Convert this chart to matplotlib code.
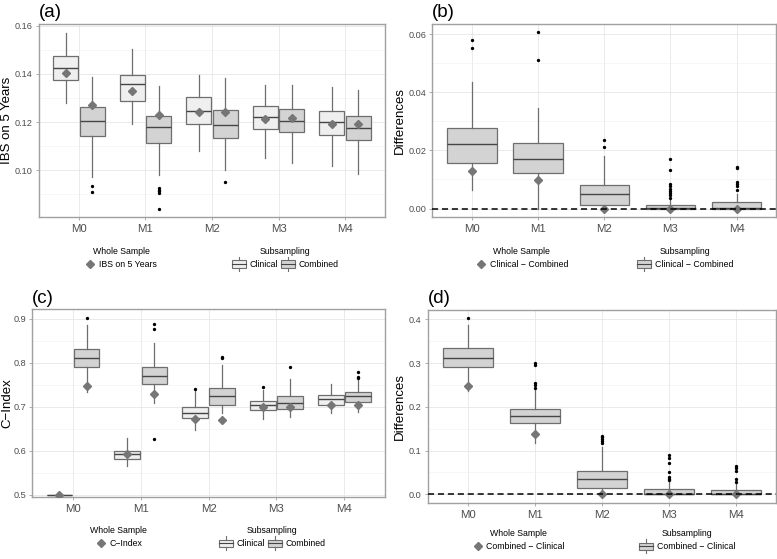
import matplotlib
matplotlib.use("Agg")
import matplotlib.pyplot as plt
from matplotlib.lines import Line2D
from matplotlib.patches import Rectangle
from matplotlib.legend_handler import HandlerBase
from matplotlib.ticker import MultipleLocator
import numpy as np

# ── Data ─────────────────────────────────────────────────────────────────────

MODELS = ["M0", "M1", "M2", "M3", "M4"]

# (a) IBS on 5 years, subsampling boxes
IBS_CLIN_LO = [0.1278, 0.1190, 0.1080, 0.1049, 0.1017]
IBS_CLIN_Q1 = [0.1374, 0.1289, 0.1194, 0.1173, 0.1145]
IBS_CLIN_MED = [0.1425, 0.1357, 0.1247, 0.1222, 0.1199]
IBS_CLIN_Q3 = [0.1474, 0.1396, 0.1303, 0.1267, 0.1247]
IBS_CLIN_HI = [0.1572, 0.1503, 0.1396, 0.1355, 0.1346]
IBS_CLIN_OUT = [[], [], [], [], []]
IBS_COMB_LO = [0.0972, 0.0978, 0.1000, 0.1030, 0.0986]
IBS_COMB_Q1 = [0.1142, 0.1112, 0.1132, 0.1160, 0.1125]
IBS_COMB_MED = [0.1206, 0.1178, 0.1186, 0.1203, 0.1175]
IBS_COMB_Q3 = [0.1261, 0.1226, 0.1250, 0.1256, 0.1226]
IBS_COMB_HI = [0.1386, 0.1350, 0.1385, 0.1353, 0.1332]
IBS_COMB_OUT = [[0.0935, 0.0911], [0.0925, 0.0918, 0.0912, 0.0906, 0.0840],
                [0.0949], [], []]
IBS_WHOLE_CLIN = [0.1403, 0.1329, 0.1243, 0.1213, 0.1190]
IBS_WHOLE_COMB = [0.1271, 0.1230, 0.1243, 0.1217, 0.1190]

# (b) IBS differences, Clinical - Combined
DIBS_LO = [0.0064, 0.0, 0.0, 0.0, 0.0]
DIBS_Q1 = [0.0158, 0.0124, 0.0013, 0.0, 0.0]
DIBS_MED = [0.0223, 0.0170, 0.0051, 0.0001, 0.0003]
DIBS_Q3 = [0.0277, 0.0225, 0.0080, 0.0013, 0.0021]
DIBS_HI = [0.0436, 0.0346, 0.0181, 0.0032, 0.0050]
DIBS_OUT = [[0.0581, 0.0553], [0.0606, 0.0510], [0.0235, 0.0211],
            [0.0172, 0.0133, 0.0084, 0.0076, 0.0068, 0.0060, 0.0053, 0.0045, 0.0038],
            [0.0143, 0.0140, 0.0092, 0.0084, 0.0076, 0.0064]]
DIBS_WHOLE = [0.0130, 0.0098, 0.0, 0.0, 0.0]

# (c) C-Index, subsampling boxes
CI_CLIN_LO = [0.5, 0.566, 0.648, 0.672, 0.685]
CI_CLIN_Q1 = [0.5, 0.582, 0.674, 0.692, 0.703]
CI_CLIN_MED = [0.5, 0.592, 0.685, 0.703, 0.7185]
CI_CLIN_Q3 = [0.5, 0.600, 0.699, 0.714, 0.7275]
CI_CLIN_HI = [0.5, 0.628, 0.735, 0.738, 0.752]
CI_CLIN_OUT = [[], [], [0.7395], [0.7455], []]
CI_COMB_LO = [0.7345, 0.708, 0.685, 0.676, 0.688]
CI_COMB_Q1 = [0.790, 0.752, 0.703, 0.6955, 0.712]
CI_COMB_MED = [0.8105, 0.771, 0.7235, 0.709, 0.7235]
CI_COMB_Q3 = [0.8325, 0.7905, 0.7425, 0.7235, 0.733]
CI_COMB_HI = [0.886, 0.8445, 0.7945, 0.7625, 0.761]
CI_COMB_OUT = [[0.9015], [0.889, 0.876, 0.627], [0.8125, 0.8105], [0.7915],
               [0.780, 0.768, 0.765]]
CI_WHOLE_CLIN = [0.5, 0.593, 0.672, 0.699, 0.705]
CI_WHOLE_COMB = [0.747, 0.729, 0.671, 0.699, 0.705]

# (d) C-Index differences, Combined - Clinical
DCI_LO = [0.235, 0.118, 0.0, 0.0, 0.0]
DCI_Q1 = [0.291, 0.1625, 0.0145, 0.0, 0.0]
DCI_MED = [0.312, 0.179, 0.035, 0.001, 0.0015]
DCI_Q3 = [0.3335, 0.1946, 0.053, 0.0114, 0.0099]
DCI_HI = [0.388, 0.239, 0.109, 0.028, 0.024]
DCI_OUT = [[0.402], [0.301, 0.296, 0.255, 0.250, 0.244],
           [0.134, 0.130, 0.126, 0.122, 0.117],
           [0.089, 0.082, 0.0725, 0.051, 0.040, 0.035, 0.032],
           [0.064, 0.059, 0.053, 0.036, 0.029]]
DCI_WHOLE = [0.247, 0.137, 0.0, 0.0, 0.0]

# ── Style ────────────────────────────────────────────────────────────────────

CLIN_FILL = "#EFEFEF"
COMB_FILL = "#D3D3D3"
EDGE = "#6E6E6E"
MEDIAN = "#454545"
DIAMOND = "#767676"
BORDER = "#A0A0A0"
GRID = "#E6E6E6"
GRID_MINOR = "#F0F0F0"
TICK_TXT = "#4D4D4D"

plt.rcParams["font.family"] = ["Liberation Sans", "DejaVu Sans"]


class BoxKey:
    def __init__(self, face):
        self.face = face


class HandlerBoxKey(HandlerBase):
    def create_artists(self, legend, orig_handle, xdescent, ydescent,
                       width, height, fontsize, trans):
        x0, y0 = -xdescent, -ydescent
        lo, hi = y0 + 0.05 * height, y0 + 0.95 * height
        rect = Rectangle((x0, lo), width, hi - lo, facecolor=orig_handle.face,
                         edgecolor=EDGE, lw=0.8, transform=trans)
        med = Line2D([x0, x0 + width], [y0 + 0.5 * height] * 2,
                     color=MEDIAN, lw=0.8, transform=trans)
        xm = x0 + width / 2
        wt = Line2D([xm, xm], [hi, hi + 0.45 * height], color=EDGE, lw=0.8,
                    transform=trans)
        wb = Line2D([xm, xm], [lo - 0.45 * height, lo], color=EDGE, lw=0.8,
                    transform=trans)
        return [rect, med, wt, wb]


def stats_list(lo, q1, med, q3, hi, out):
    return [dict(whislo=a, q1=b, med=c, q3=d, whishi=e, fliers=f)
            for a, b, c, d, e, f in zip(lo, q1, med, q3, hi, out)]


def draw_boxes(ax, stats, pos, width, fill):
    ax.bxp(stats, positions=pos, widths=width, patch_artist=True,
           showcaps=False, manage_ticks=False,
           boxprops=dict(facecolor=fill, edgecolor=EDGE, linewidth=0.9),
           medianprops=dict(color=MEDIAN, linewidth=1.0),
           whiskerprops=dict(color=EDGE, linewidth=0.9),
           flierprops=dict(marker="o", markersize=1.4, markerfacecolor="black",
                           markeredgecolor="black", linestyle="none"),
           zorder=3)


def style_axes(ax, ylim, major, minor, ylabel, fmt, label_x):
    ax.set_xlim(0.4, 5.6)
    ax.set_ylim(*ylim)
    ax.set_xticks(np.arange(1, 6))
    ax.set_xticklabels(MODELS)
    ax.yaxis.set_major_locator(MultipleLocator(major))
    ax.yaxis.set_minor_locator(MultipleLocator(minor))
    ax.yaxis.set_major_formatter(plt.FuncFormatter(lambda v, p: fmt.format(v)))
    ax.grid(True, which="major", color=GRID, linewidth=0.6, zorder=0)
    ax.grid(True, which="minor", axis="y", color=GRID_MINOR, linewidth=0.4, zorder=0)
    ax.set_axisbelow(True)
    ax.tick_params(axis="y", which="minor", length=0)
    ax.tick_params(axis="both", which="major", length=2.5, width=0.6,
                   color=BORDER, pad=2)
    ax.tick_params(axis="y", labelsize=6.6, labelcolor=TICK_TXT)
    ax.tick_params(axis="x", labelsize=8.2, labelcolor=TICK_TXT)
    for s in ax.spines.values():
        s.set_color(BORDER)
        s.set_linewidth(1.0)
    ax.set_ylabel(ylabel, fontsize=9.5)
    ax.yaxis.set_label_coords(label_x, 0.5)


def add_legends(ax, whole_label, sub_labels, sub_fills, cx_whole, cx_sub, y):
    h1 = [Line2D([], [], marker="D", color=DIAMOND, markersize=3.6,
                 linestyle="none")]
    leg1 = ax.legend(h1, [whole_label], title="Whole Sample", loc="upper center",
                     bbox_to_anchor=(cx_whole, y), frameon=False, fontsize=6.3,
                     title_fontsize=6.3, handlelength=1.2, handletextpad=0.4,
                     borderpad=0.2)
    ax.add_artist(leg1)
    h2 = [BoxKey(f) for f in sub_fills]
    ax.legend(h2, sub_labels, title="Subsampling", loc="upper center",
              bbox_to_anchor=(cx_sub, y), frameon=False, fontsize=6.3,
              title_fontsize=6.3, ncol=len(h2), handlelength=1.6,
              handleheight=1.0, handletextpad=0.4, columnspacing=0.4,
              borderpad=0.2, handler_map={BoxKey: HandlerBoxKey()})


fig = plt.figure(figsize=(7.77, 5.59), dpi=100)
ax_a = fig.add_axes([0.0502, 0.6113, 0.4453, 0.3458])
ax_b = fig.add_axes([0.5564, 0.6113, 0.4427, 0.3458])
ax_c = fig.add_axes([0.0416, 0.1104, 0.4539, 0.3360])
ax_d = fig.add_axes([0.5508, 0.0993, 0.4480, 0.3470])

x = np.arange(1, 6)
OFF, BW = 0.2, 0.38

# (a)
draw_boxes(ax_a, stats_list(IBS_CLIN_LO, IBS_CLIN_Q1, IBS_CLIN_MED, IBS_CLIN_Q3,
                            IBS_CLIN_HI, IBS_CLIN_OUT), x - OFF, BW, CLIN_FILL)
draw_boxes(ax_a, stats_list(IBS_COMB_LO, IBS_COMB_Q1, IBS_COMB_MED, IBS_COMB_Q3,
                            IBS_COMB_HI, IBS_COMB_OUT), x + OFF, BW, COMB_FILL)
ax_a.plot(x - OFF, IBS_WHOLE_CLIN, "D", color=DIAMOND, ms=3.6, zorder=4)
ax_a.plot(x + OFF, IBS_WHOLE_COMB, "D", color=DIAMOND, ms=3.6, zorder=4)
style_axes(ax_a, (0.0804, 0.1608), 0.02, 0.01, "IBS on 5 Years", "{:.2f}", -0.074)
add_legends(ax_a, "IBS on 5 Years", ["Clinical", "Combined"],
            [CLIN_FILL, COMB_FILL], 0.237, 0.711, -0.12)

# (b)
draw_boxes(ax_b, stats_list(DIBS_LO, DIBS_Q1, DIBS_MED, DIBS_Q3, DIBS_HI,
                            DIBS_OUT), x, 0.75, COMB_FILL)
ax_b.plot(x, DIBS_WHOLE, "D", color=DIAMOND, ms=3.6, zorder=4)
ax_b.axhline(0, color="black", linestyle=(0, (4, 2.5)), linewidth=1.1, zorder=5)
style_axes(ax_b, (-0.003, 0.0635), 0.02, 0.01, "Differences", "{:.2f}", -0.076)
add_legends(ax_b, "Clinical \u2212 Combined", ["Clinical \u2212 Combined"],
            [COMB_FILL], 0.26, 0.735, -0.12)

# (c)
draw_boxes(ax_c, stats_list(CI_CLIN_LO, CI_CLIN_Q1, CI_CLIN_MED, CI_CLIN_Q3,
                            CI_CLIN_HI, CI_CLIN_OUT), x - OFF, BW, CLIN_FILL)
draw_boxes(ax_c, stats_list(CI_COMB_LO, CI_COMB_Q1, CI_COMB_MED, CI_COMB_Q3,
                            CI_COMB_HI, CI_COMB_OUT), x + OFF, BW, COMB_FILL)
ax_c.plot(x - OFF, CI_WHOLE_CLIN, "D", color=DIAMOND, ms=3.6, zorder=4)
ax_c.plot(x + OFF, CI_WHOLE_COMB, "D", color=DIAMOND, ms=3.6, zorder=4)
style_axes(ax_c, (0.494, 0.9216), 0.1, 0.05, "C\u2212Index", "{:.1f}", -0.054)
add_legends(ax_c, "C\u2212Index", ["Clinical", "Combined"],
            [CLIN_FILL, COMB_FILL], 0.245, 0.68, -0.12)

# (d)
draw_boxes(ax_d, stats_list(DCI_LO, DCI_Q1, DCI_MED, DCI_Q3, DCI_HI, DCI_OUT),
           x, 0.75, COMB_FILL)
ax_d.plot(x, DCI_WHOLE, "D", color=DIAMOND, ms=3.6, zorder=4)
ax_d.axhline(0, color="black", linestyle=(0, (4, 2.5)), linewidth=1.1, zorder=5)
style_axes(ax_d, (-0.021, 0.4224), 0.1, 0.05, "Differences", "{:.1f}", -0.063)
add_legends(ax_d, "Combined \u2212 Clinical", ["Combined \u2212 Clinical"],
            [COMB_FILL], 0.26, 0.745, -0.10)

for ax, lab in zip([ax_a, ax_b, ax_c, ax_d], ["(a)", "(b)", "(c)", "(d)"]):
    ax.text(0.0, 1.015, lab, transform=ax.transAxes, fontsize=13.5,
            ha="left", va="bottom")

fig.savefig("out.png", dpi=100)
